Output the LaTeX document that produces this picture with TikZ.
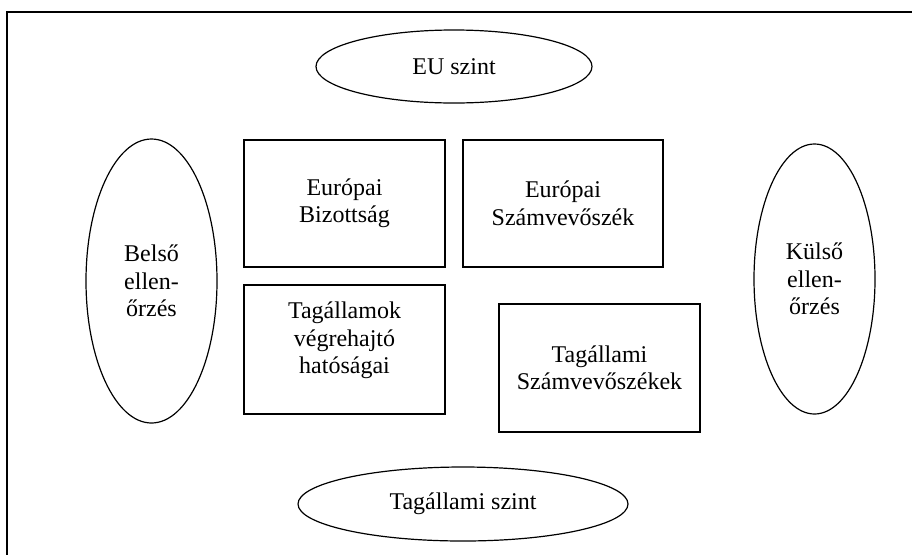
\documentclass[tikz,border=0pt]{standalone}
\usepackage{fontspec}
\setmainfont{Liberation Serif}
\usetikzlibrary{shapes.geometric}

\tikzset{
  txt/.style={font=\fontsize{18}{20.6}\selectfont,align=center},
  box/.style={txt,draw,line width=0.9pt,rectangle,inner sep=0pt},
  oval/.style={txt,draw,line width=0.9pt,ellipse,inner sep=0pt},
}

\begin{document}
\begin{tikzpicture}[x=0.75pt,y=-0.75pt]
  \clip (0,0) rectangle (912,554);
% frame
  \draw[line width=1pt] (7,12) rectangle (940,590);
% levels
  \node[oval,minimum width=207pt,minimum height=54.75pt] (eu) at (454,66.5) {EU szint};
  \node[oval,minimum width=247.5pt,minimum height=55.5pt] (tag) at (463,504) {Tagállami szint};
% control
  \node[oval,minimum width=98.25pt,minimum height=213pt] (belso) at (151.5,281) {Belső\\ellen-\\őrzés};
  \node[oval,minimum width=90.75pt,minimum height=202.5pt] (kulso) at (814.5,279) {Külső\\ellen-\\őrzés};
% First box
  \node[box,minimum width=150.75pt,minimum height=95.25pt] (biz) at (344.5,203.5) {Európai\\Bizottság};
% Second box
  \node[box,minimum width=150pt,minimum height=95.25pt] (eusz) at (563,203.5) {Európai\\Számvevőszék};
% Third box
  \node[box,minimum width=150.75pt,minimum height=96.75pt,text depth=17.5pt] (hat) at (344.5,349.5) {Tagállamok\\végrehajtó\\hatóságai};
% Fourth box
  \node[box,minimum width=150.75pt,minimum height=96pt] (tagsz) at (599.5,368) {Tagállami\\Számvevőszékek};
\end{tikzpicture}
\end{document}
